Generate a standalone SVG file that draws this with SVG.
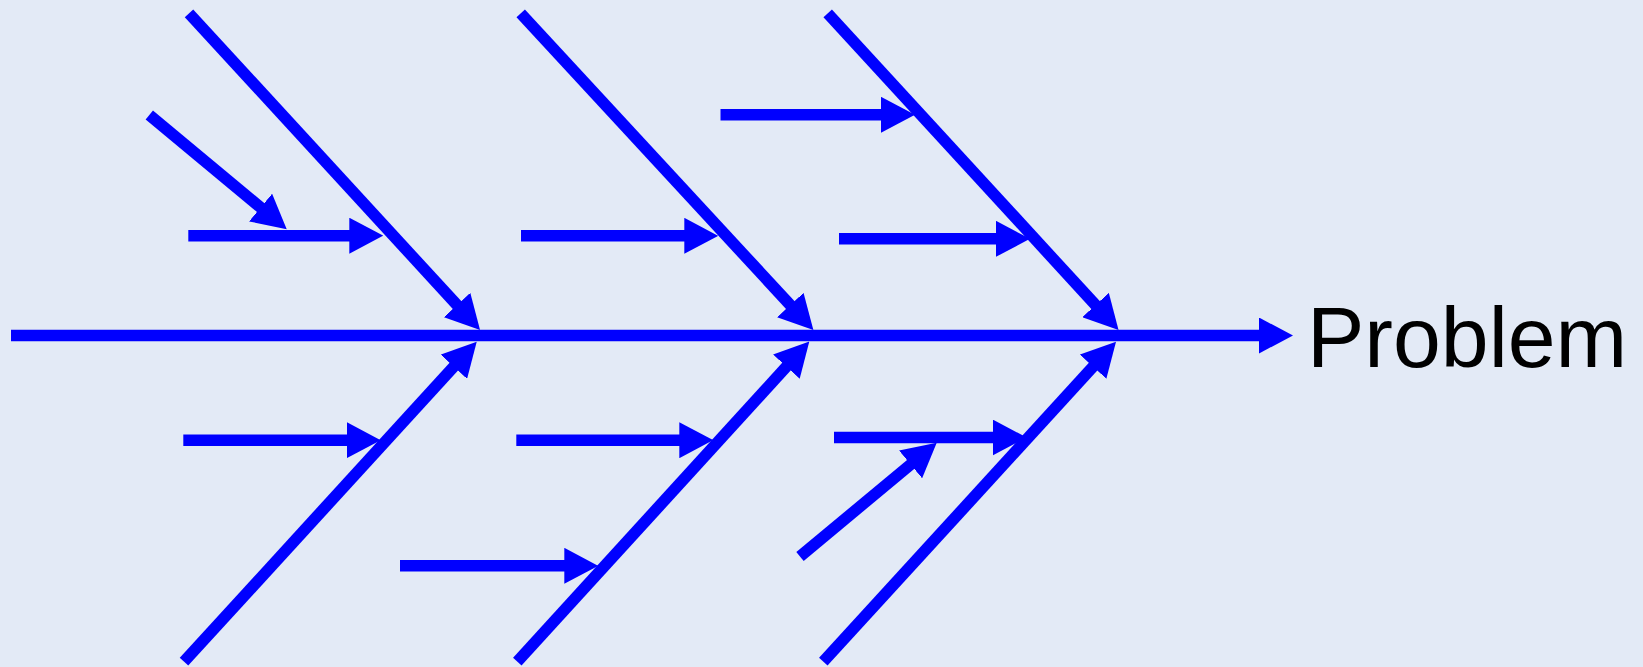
<svg xmlns="http://www.w3.org/2000/svg" width="1643" height="667" viewBox="0 0 1643 667">
  <style>
    .bone { stroke: #0000FF; stroke-width: 11.5; fill: none; stroke-linecap: butt; marker-end: url(#arrow); }
    .label { font-family: "Liberation Sans", Arial, sans-serif; font-size: 86px; fill: #000000; }
  </style>
  <defs>
    <marker id="arrow" markerUnits="userSpaceOnUse" markerWidth="34" markerHeight="36" viewBox="0 0 34 36" refX="19" refY="18" orient="auto">
      <path d="M0,0 L34,18 L0,36 Z" fill="#0000FF"/>
    </marker>
  </defs>
  <rect x="0" y="0" width="1643" height="667" fill="#E3EAF6"/>
  <g id="connectors">
    <!-- spine -->
    <line class="bone" x1="11" y1="335.5" x2="1278" y2="335.5"/>
    <!-- top main bones -->
    <line class="bone" x1="189" y1="13.3" x2="469.9" y2="319"/>
    <line class="bone" x1="520.7" y1="13.3" x2="803.2" y2="319"/>
    <line class="bone" x1="827.7" y1="13.3" x2="1108.4" y2="319"/>
    <!-- bottom main bones -->
    <line class="bone" x1="184" y1="661.7" x2="466.6" y2="352.7"/>
    <line class="bone" x1="517.3" y1="661.7" x2="799.2" y2="352.7"/>
    <line class="bone" x1="823.3" y1="661.7" x2="1105.9" y2="352.7"/>
    <!-- horizontal sub-bones -->
    <line class="bone" x1="188.3" y1="235.7" x2="368.3" y2="235.7"/>
    <line class="bone" x1="521" y1="235.8" x2="703.3" y2="235.8"/>
    <line class="bone" x1="720.5" y1="114.8" x2="900" y2="114.8"/>
    <line class="bone" x1="839" y1="238.8" x2="1015" y2="238.8"/>
    <line class="bone" x1="183.3" y1="440.2" x2="365.7" y2="440.2"/>
    <line class="bone" x1="516.3" y1="440.2" x2="698.3" y2="440.2"/>
    <line class="bone" x1="400" y1="565.8" x2="583.3" y2="565.8"/>
    <line class="bone" x1="834" y1="437.5" x2="1011.7" y2="437.5"/>
    <!-- small diagonal sub-sub-bones -->
    <line class="bone" x1="149.3" y1="115" x2="275.2" y2="219.7"/>
    <line class="bone" x1="800" y1="556.5" x2="925.2" y2="452.3"/>
  </g>
  <g id="problem">
    <text class="label" x="1307" y="367">Problem</text>
  </g>
</svg>
